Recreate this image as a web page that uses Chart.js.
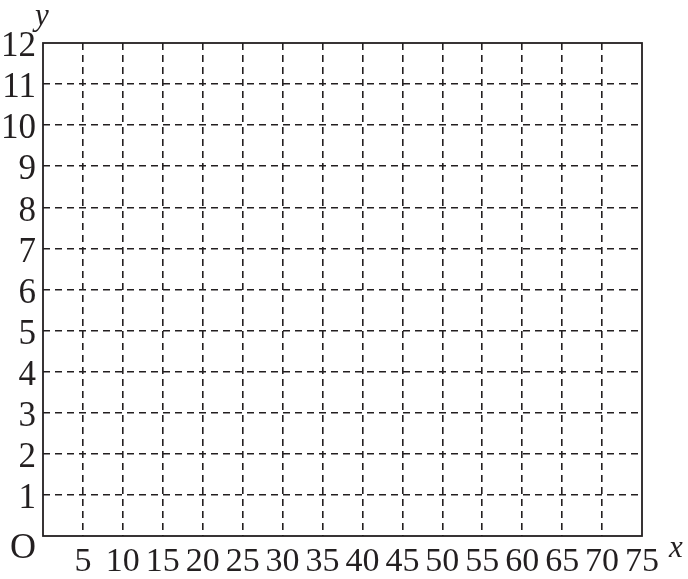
<!DOCTYPE html>
<html>
<head>
<meta charset="utf-8">
<script src="https://cdn.jsdelivr.net/npm/chart.js@4"></script>
<style>
html,body{margin:0;padding:0;background:#fff;}
#wrap{width:688px;height:579px;position:relative;}
</style>
</head>
<body>
<div id="wrap"><canvas id="c" width="688" height="579"></canvas></div>
<script>
const xMin = 0, xMax = 75, xStep = 5;
const yMin = 0, yMax = 12, yStep = 1;
const xTickLabels = ['', '5', '10', '15', '20', '25', '30', '35', '40', '45', '50', '55', '60', '65', '70', '75'];
const yTickLabels = ['', '1', '2', '3', '4', '5', '6', '7', '8', '9', '10', '11', '12'];
const originLabel = 'O';
const xAxisName = 'x';
const yAxisName = 'y';

const INK = '#231f20';
const FONT = '"Liberation Serif", "DejaVu Serif", serif';

const framePlugin = {
  id: 'frame',
  afterDraw(chart) {
    const {ctx, chartArea: a, scales} = chart;
    ctx.save();
    ctx.strokeStyle = INK;
    ctx.lineWidth = 1.8;
    ctx.setLineDash([]);
    ctx.strokeRect(a.left, a.top, a.right - a.left, a.bottom - a.top);
    ctx.fillStyle = INK;
    ctx.font = '36px ' + FONT;
    ctx.textAlign = 'center';
    ctx.textBaseline = 'middle';
    ctx.fillText(originLabel, scales.x.getPixelForValue(xMin) - 20, scales.y.getPixelForValue(yMin) + 13);
    ctx.font = 'italic 31px ' + FONT;
    ctx.fillText(yAxisName, scales.x.getPixelForValue(xMin) - 1, a.top - 26);
    ctx.fillText(xAxisName, a.right + 34, scales.y.getPixelForValue(yMin) + 13);
    ctx.restore();
  }
};

new Chart(document.getElementById('c'), {
  type: 'scatter',
  data: { datasets: [{ data: [], showLine: false }] },
  options: {
    responsive: false,
    animation: false,
    events: [],
    layout: { padding: { top: 43, right: 46, left: 0, bottom: 0 } },
    plugins: { legend: { display: false }, tooltip: { enabled: false }, title: { display: false } },
    scales: {
      x: {
        type: 'linear',
        min: xMin, max: xMax,
        afterFit(s) { s.height = 43; },
        ticks: {
          stepSize: xStep,
          autoSkip: false,
          maxRotation: 0,
          minRotation: 0,
          padding: 6,
          color: INK,
          font: { family: FONT, size: 34 },
          callback: (v, i) => xTickLabels[i] ?? ''
        },
        grid: {
          drawTicks: false,
          lineWidth: 1.6,
          color: ctx => (ctx.tick && (ctx.tick.value === xMin || ctx.tick.value === xMax)) ? 'rgba(0,0,0,0)' : INK
        },
        border: { display: false, dash: [7, 5] }
      },
      y: {
        type: 'linear',
        min: yMin, max: yMax,
        afterFit(s) { s.width = 43; },
        ticks: {
          stepSize: yStep,
          autoSkip: false,
          padding: 7,
          labelOffset: 4,
          color: INK,
          font: { family: FONT, size: 35 },
          callback: (v, i) => yTickLabels[i] ?? ''
        },
        grid: {
          drawTicks: false,
          lineWidth: 1.6,
          color: ctx => (ctx.tick && (ctx.tick.value === yMin || ctx.tick.value === yMax)) ? 'rgba(0,0,0,0)' : INK
        },
        border: { display: false, dash: [7, 5] }
      }
    }
  },
  plugins: [framePlugin]
});
</script>
</body>
</html>
